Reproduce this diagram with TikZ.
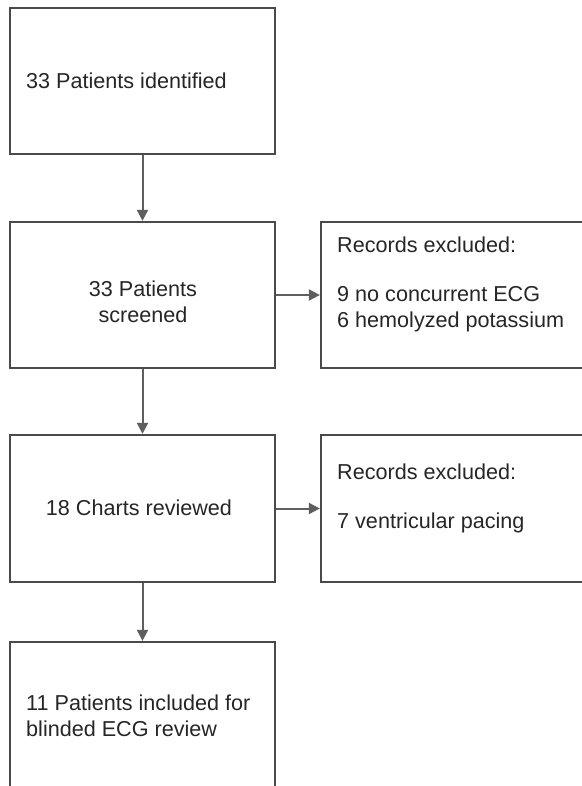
\documentclass[tikz,border=0pt]{standalone}
\usepackage{fontspec}
\setmainfont{Liberation Sans}
\usetikzlibrary{arrows.meta}
\definecolor{linegray}{HTML}{4A4A4A}
\definecolor{arrowgray}{HTML}{5E5E5E}
\definecolor{txtgray}{HTML}{262626}
\begin{document}
\begin{tikzpicture}[x=1pt,y=-1pt,
  box/.style={draw=linegray, line width=2.3pt, fill=white, inner sep=0pt},
  txt/.style={text=txtgray, inner sep=0pt, font=\fontsize{21.6}{26}\selectfont},
  conn/.style={draw=arrowgray, line width=2pt, -{Triangle[width=11pt,length=11pt]}}]
\useasboundingbox[fill=white] (0,0) rectangle (581,786);
% boxes
\node[box, minimum width=265pt, minimum height=146pt] (b1) at (142.5,81) {};
\node[box, minimum width=265pt, minimum height=146pt] (b2) at (142.5,295) {};
\node[box, minimum width=265pt, minimum height=147pt] (b3) at (142.5,508.5) {};
\node[box, minimum width=265pt, minimum height=170pt] (b4) at (142.5,727) {};
\node[box, minimum width=270pt, minimum height=146pt] (r1) at (456,295) {};
\node[box, minimum width=270pt, minimum height=147pt] (r2) at (456,508.5) {};
% texts
\node[txt, anchor=west] (t1) at (26,81) {33 Patients identified};
\node[txt, align=center] (t2) at (143,302) {33 Patients\\screened};
\node[txt] (t3) at (139,508) {18 Charts reviewed};
\node[txt, anchor=west, align=left] (t4) at (26,716) {11 Patients included for\\blinded ECG review};
\node[txt, anchor=west] (r1a) at (337,245) {Records excluded:};
\node[txt, anchor=west, align=left] (r1b) at (337,309) {9 no concurrent ECG\\6 hemolyzed potassium};
\node[txt, anchor=west] (r2a) at (337,472) {Records excluded:};
\node[txt, anchor=west] (r2b) at (337,523) {7 ventricular pacing};
% connectors
\draw[conn] (b1.south) -- (b2.north);
\draw[conn] (b2.south) -- (b3.north);
\draw[conn] (b3.south) -- (b4.north);
\draw[conn] (b2.east) -- (r1.west);
\draw[conn] (b3.east) -- (r2.west);
\end{tikzpicture}
\end{document}
